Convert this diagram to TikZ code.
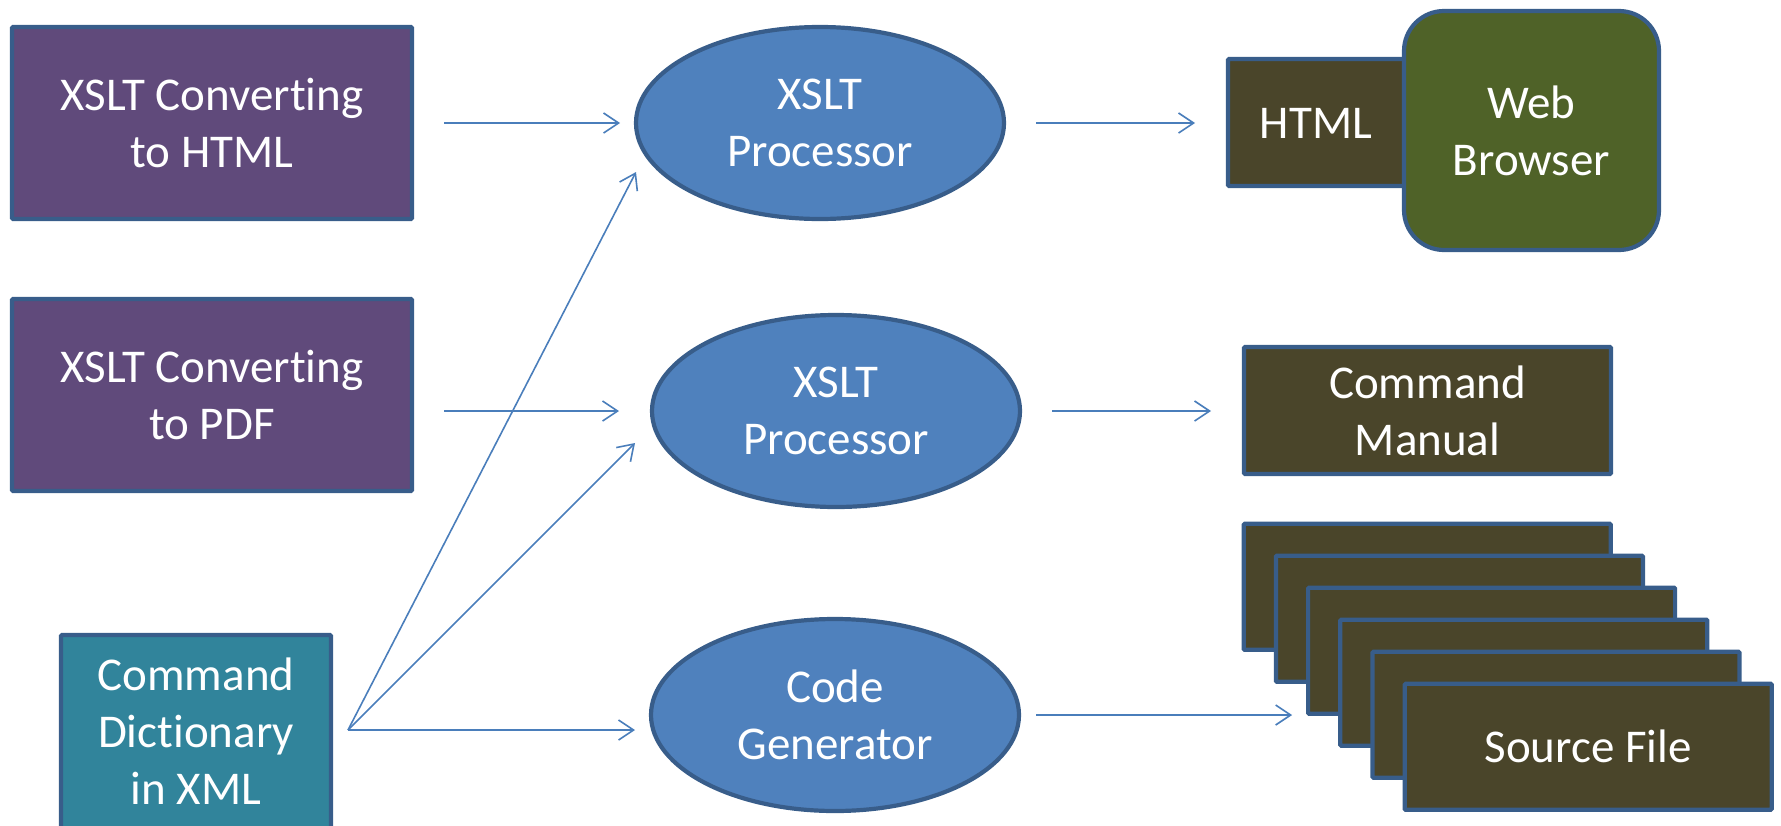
\documentclass[tikz,border=0pt]{standalone}
\usepackage{fontspec}
\setmainfont{Carlito}[Ligatures=NoCommon]
\usetikzlibrary{arrows.meta,shapes.geometric,calc}
\definecolor{bordc}{HTML}{385D8A}
\definecolor{arrc}{HTML}{4A7EBB}
\definecolor{purplec}{HTML}{604A7B}
\definecolor{ovalc}{HTML}{4F81BD}
\definecolor{tealc}{HTML}{31849B}
\definecolor{olivec}{HTML}{4A452A}
\definecolor{greenc}{HTML}{4F6228}
\begin{document}
\begin{tikzpicture}[x=1pt,y=-1pt,
  shp/.style={draw=bordc, line width=4.2pt, inner sep=0pt, outer sep=0pt,
    text=white, font=\fontsize{47}{57}\selectfont, align=center},
  box/.style={shp, rectangle, rounded corners=1pt},
  oval/.style={shp, ellipse, fill=ovalc, minimum width=368pt, minimum height=192pt},
  lbl/.style={text=white, font=\fontsize{47}{57}\selectfont, align=center, inner sep=0pt},
  arr/.style={draw=arrc, line width=1.6pt, -{Straight Barb[length=15pt,width=20pt]}}]
\useasboundingbox (0,0) rectangle (1781,825);
\clip (0,0) rectangle (1781,825);

% left boxes
\node[box, fill=purplec, minimum width=400pt, minimum height=192pt] (b1) at (212,123) {XSLT Converting\\to HTML};
\node[box, fill=purplec, minimum width=400pt, minimum height=192pt] (b2) at (212,395) {XSLT Converting\\to PDF};
\node[box, fill=tealc, minimum width=270pt, minimum height=245pt] (b3) at (196,757.5) {};
\node[lbl] (t3) at (196,731) {Command\\Dictionary\\in XML};
\coordinate (src) at (348,730);

% processors
\node[oval] (e1) at (820,123) {XSLT\\Processor};
\node[oval] (e2) at (836,411) {XSLT\\Processor};
\node[oval] (e3) at (835,715) {Code\\Generator};

% outputs
\node[box, fill=olivec, minimum width=222pt, minimum height=127pt] (html) at (1339,122.5) {};
\node[lbl] (thtml) at (1316,123) {HTML};
\node[box, fill=greenc, minimum width=255pt, minimum height=239pt, rounded corners=40pt] (web) at (1531.5,130.5) {Web\\Browser};
\node[box, fill=olivec, minimum width=367pt, minimum height=127pt] (cm) at (1427.5,410.5) {Command\\Manual};
\foreach \i in {0,...,4}{
  \node[box, fill=olivec, minimum width=367pt, minimum height=126pt] (s\i) at ({1427.2+32.2*\i},{586.75+32*\i}) {};
}
\node[box, fill=olivec, minimum width=367pt, minimum height=126pt] (s5) at (1588.2,746.75) {Source File};

% connectors
\draw[arr, shorten <=32pt, shorten >=16pt] (b1.east) -- (e1.west);
\draw[arr, shorten <=32pt, shorten >=33pt] (b2.east |- e2.west) -- (e2.west);
\draw[arr] (src) -- ($(e1.west)+(0,49)$);
\draw[arr] (src) -- ($(e2.west)+(-17,32)$);
\draw[arr, shorten >=16pt] (src) -- (src -| e3.west);
\draw[arr, shorten <=32pt, shorten >=33pt] (e1.east) -- (e1.east -| html.west);
\draw[arr, shorten <=32pt, shorten >=33pt] (e2.east) -- (e2.east -| cm.west);
\draw[arr, shorten <=17pt, shorten >=16pt] (e3.east) -- (e3.east -| s2.west);
\end{tikzpicture}
\end{document}
